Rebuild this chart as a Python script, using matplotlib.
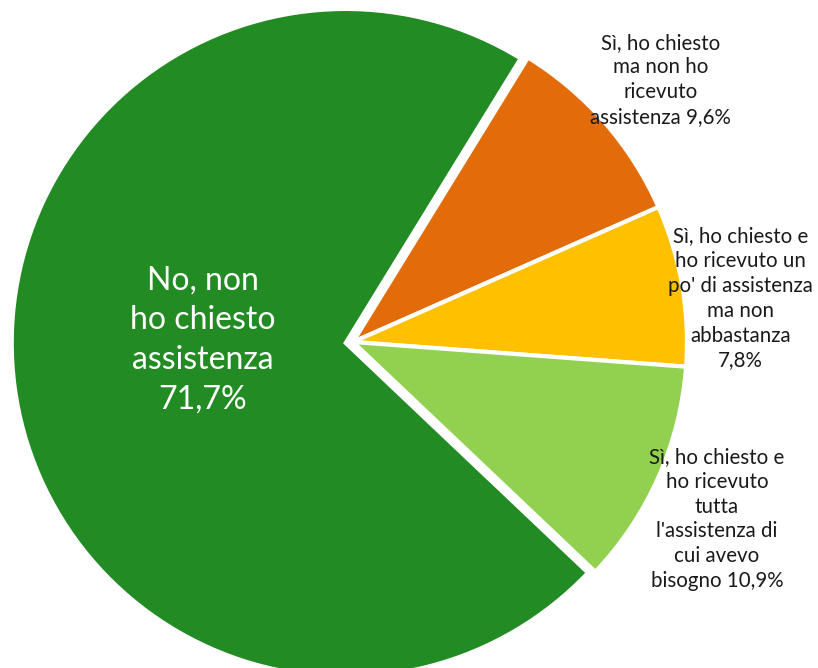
import matplotlib.pyplot as plt

# survey answers, drawn clockwise starting from the orange slice
labels = [
    "Sì, ho chiesto\nma non ho\nricevuto\nassistenza 9,6%",
    "Sì, ho chiesto e\nho ricevuto un\npo' di assistenza\nma non\nabbastanza\n7,8%",
    "Sì, ho chiesto e\nho ricevuto\ntutta\nl'assistenza di\ncui avevo\nbisogno 10,9%",
    "No, non\nho chiesto\nassistenza\n71,7%",
]
values = [9.6, 7.8, 10.9, 71.7]
colors = ["#E36C0A", "#FFC000", "#92D050", "#238B23"]
explode = [0, 0, 0, 0.022]

# label anchor points in pie-radius units
label_pos = [(0.92, 0.785), (1.16, 0.13), (1.09, -0.53), (-0.45, 0.006)]

plt.rcParams['font.family'] = ['Lato', 'DejaVu Sans']

scale = 334  # pixels per pie radius
fig = plt.figure(figsize=(8.18, 6.68), dpi=100)
ax = fig.add_axes([0, 0, 1, 1])
ax.pie(values, colors=colors, explode=explode, startangle=58.4, counterclock=False,
       radius=1.0, wedgeprops=dict(edgecolor="white", linewidth=3))
ax.set_xlim(-353 / scale, (818 - 353) / scale)
ax.set_ylim(-326 / scale, 342 / scale)
ax.set_aspect("equal")
ax.axis("off")

for i, (lab, (x, y)) in enumerate(zip(labels, label_pos)):
    if i == 3:
        ax.text(x, y, lab, ha="center", va="center", color="white",
                fontsize=23, linespacing=1.4)
    else:
        ax.text(x, y, lab, ha="center", va="center", color="#1a1a1a",
                fontsize=14.8, linespacing=1.3)

fig.savefig("out.png", dpi=100)
